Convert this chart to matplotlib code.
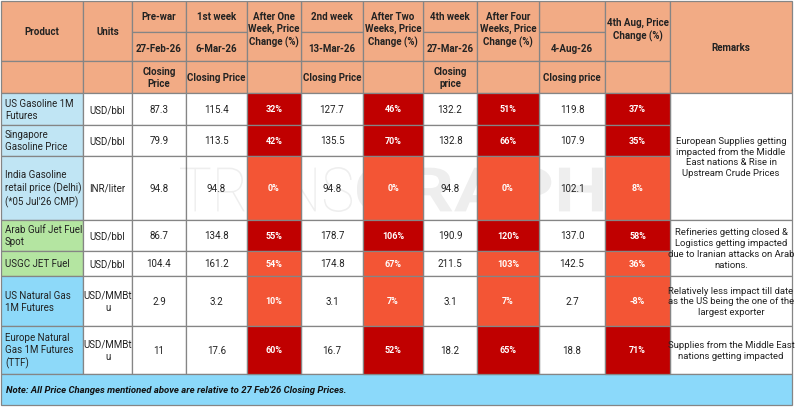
import matplotlib
matplotlib.use("Agg")
import matplotlib.pyplot as plt
from matplotlib.patches import Rectangle, PathPatch
from matplotlib.textpath import TextPath
from matplotlib.font_manager import FontProperties
from matplotlib.transforms import Affine2D

plt.rcParams['font.family'] = ['Roboto', 'DejaVu Sans']

# ---------------- data ----------------
products = ["US Gasoline 1M\nFutures", "Singapore\nGasoline Price",
            "India Gasoline\nretail price (Delhi)\n(*05 Jul'26 CMP)",
            "Arab Gulf Jet Fuel\nSpot", "USGC JET Fuel",
            "US Natural Gas\n1M Futures", "Europe Natural\nGas 1M Futures\n(TTF)"]
units = ["USD/bbl", "USD/bbl", "INR/liter", "USD/bbl", "USD/bbl",
         "USD/MMBt\nu", "USD/MMBt\nu"]
prewar = ["87.3", "79.9", "94.8", "86.7", "104.4", "2.9", "11"]
week1 = ["115.4", "113.5", "94.8", "134.8", "161.2", "3.2", "17.6"]
chg1 = ["32%", "42%", "0%", "55%", "54%", "10%", "60%"]
week2 = ["127.7", "135.5", "94.8", "178.7", "174.8", "3.1", "16.7"]
chg2 = ["46%", "70%", "0%", "106%", "67%", "7%", "52%"]
week4 = ["132.2", "132.8", "94.8", "190.9", "211.5", "3.1", "18.2"]
chg4 = ["51%", "66%", "0%", "120%", "103%", "7%", "65%"]
aug = ["119.8", "107.9", "102.1", "137.0", "142.5", "2.7", "18.8"]
chg_aug = ["37%", "35%", "8%", "58%", "36%", "-8%", "71%"]
row_strong = [True, True, False, True, False, False, True]
product_group = ["gas", "gas", "gas", "jet", "jet", "ng", "ng"]
remarks = [(0, 3, "European Supplies getting\nimpacted from the Middle\nEast nations & Rise in\nUpstream Crude Prices"),
           (3, 5, "Refineries getting closed &\nLogistics getting impacted\ndue to Iranian attacks on Arab\nnations."),
           (5, 6, "Relatively less impact till date\nas the US being the one of the\nlargest exporter"),
           (6, 7, "Supplies from the Middle East\nnations getting impacted")]
hdr_top = ["Pre-war", "1st week", "2nd week", "4th week", ""]
hdr_dates = ["27-Feb-26", "6-Mar-26", "13-Mar-26", "27-Mar-26", "4-Aug-26"]
hdr_sub = ["Closing\nPrice", "Closing Price", "Closing Price", "Closing\nprice", "Closing price"]
hdr_chg = ["After One\nWeek, Price\nChange (%)", "After Two\nWeeks, Price\nChange (%)",
           "After Four\nWeeks, Price\nChange (%)", "4th Aug, Price\nChange (%)"]
note = "Note: All Price Changes mentioned above are relative to 27 Feb'26 Closing Prices."
watermark_parts = ["TRANS", "GRAPH"]

# ---------------- layout ----------------
W, H = 795, 410
xs = [1, 83, 132, 186, 247, 301, 363, 423, 477, 539, 605, 670, 792]
ys = [2, 62, 94, 126, 157, 221, 252, 277, 327, 375, 406]
ysplit = 33

C_HDR = "#F2AB85"
C_GRID = "#858585"
C_DARK = "#C00000"
C_ORNG = "#F35535"
GROUP_COL = {"gas": "#C0E5F4", "jet": "#B4E5A1", "ng": "#8DD9F9"}
C_NOTE = "#8BD9FA"

fig = plt.figure(figsize=(W / 100, H / 100), dpi=100)
ax = fig.add_axes([0, 0, 1, 1])
ax.set_xlim(0, W)
ax.set_ylim(H, 0)
ax.axis("off")


def cell(x0, x1, y0, y1, fc, z=1):
    ax.add_patch(Rectangle((x0, y0), x1 - x0, y1 - y0, facecolor=fc,
                           edgecolor=C_GRID, linewidth=0.9, zorder=z))


def txt(x, y, s, **kw):
    d = dict(ha="center", va="center", fontsize=7, color="#222222", zorder=5,
             linespacing=1.25)
    d.update(kw)
    ax.text(x, y, s, **d)


# header
hdr_kw = dict(fontweight="bold", fontsize=7)
cell(xs[0], xs[1], ys[0], ys[1], C_HDR)
txt((xs[0] + xs[1]) / 2, (ys[0] + ys[1]) / 2, "Product", **hdr_kw)
cell(xs[1], xs[2], ys[0], ys[1], C_HDR)
txt((xs[1] + xs[2]) / 2, (ys[0] + ys[1]) / 2, "Units", **hdr_kw)
cell(xs[0], xs[1], ys[1], ys[2], C_HDR)
cell(xs[1], xs[2], ys[1], ys[2], C_HDR)

price_cols = [2, 3, 5, 7, 9]
chg_cols = [4, 6, 8, 10]
for i, c in enumerate(price_cols):
    cell(xs[c], xs[c + 1], ys[0], ysplit, C_HDR)
    cell(xs[c], xs[c + 1], ysplit, ys[1], C_HDR)
    cell(xs[c], xs[c + 1], ys[1], ys[2], C_HDR)
    cx = (xs[c] + xs[c + 1]) / 2
    txt(cx, (ys[0] + ysplit) / 2, hdr_top[i], **hdr_kw)
    txt(cx, (ysplit + ys[1]) / 2 + 1, hdr_dates[i], **hdr_kw)
    txt(cx, (ys[1] + ys[2]) / 2, hdr_sub[i], **hdr_kw)
for i, c in enumerate(chg_cols):
    cell(xs[c], xs[c + 1], ys[0], ys[1], C_HDR)
    cell(xs[c], xs[c + 1], ys[1], ys[2], C_HDR)
    txt((xs[c] + xs[c + 1]) / 2, (ys[0] + ys[1]) / 2 - 2, hdr_chg[i], **hdr_kw)
cell(xs[11], xs[12], ys[0], ys[2], C_HDR)
txt((xs[11] + xs[12]) / 2, (ys[0] + ys[2]) / 2, "Remarks", **hdr_kw)

# body
chg_lists = [chg1, chg2, chg4, chg_aug]
vals = [prewar, week1, week2, week4, aug]
for r in range(len(products)):
    y0, y1 = ys[r + 2], ys[r + 3]
    cy = (y0 + y1) / 2
    cell(xs[0], xs[1], y0, y1, GROUP_COL[product_group[r]])
    txt(xs[0] + 4, cy, products[r], ha="left")
    cell(xs[1], xs[2], y0, y1, "white")
    txt((xs[1] + xs[2]) / 2, cy, units[r])
    for i, c in enumerate(price_cols):
        cell(xs[c], xs[c + 1], y0, y1, "white")
        txt((xs[c] + xs[c + 1]) / 2, cy, vals[i][r])
    for i, c in enumerate(chg_cols):
        cell(xs[c], xs[c + 1], y0, y1, C_DARK if row_strong[r] else C_ORNG, z=3)
        txt((xs[c] + xs[c + 1]) / 2, cy, chg_lists[i][r], color="white",
            fontweight="bold", fontsize=6.5)

for r0, r1, s in remarks:
    y0, y1 = ys[r0 + 2], ys[r1 + 2]
    cell(xs[11], xs[12], y0, y1, "white")
    txt((xs[11] + xs[12]) / 2, (y0 + y1) / 2, s, fontsize=6.8)

# note row
cell(xs[0], xs[12], ys[-2], ys[-1], C_NOTE)
txt(xs[0] + 5, (ys[-2] + ys[-1]) / 2, note, ha="left", fontweight="bold",
    fontstyle="italic", fontsize=6.8, color="#111111")

# watermark: thin "TRANS" + bold "GRAPH", above white cells, under coloured cells
wm_boxes = [(180, 352, "light"), (357, 603, "bold")]
wy0, wy1 = 168, 213
for part, (bx0, bx1, wt) in zip(watermark_parts, wm_boxes):
    tp = TextPath((0, 0), part, size=50, prop=FontProperties(family="Roboto", weight=wt))
    ext = tp.get_extents()
    sx = (bx1 - bx0) / ext.width
    sy = (wy1 - wy0) / ext.height
    tr = Affine2D().translate(-ext.x0, -ext.y0).scale(sx, -sy).translate(bx0, wy1)
    ax.add_patch(PathPatch(tr.transform_path(tp), facecolor="black", edgecolor="none",
                           alpha=0.065, zorder=2))

fig.savefig("out.png", dpi=100)
